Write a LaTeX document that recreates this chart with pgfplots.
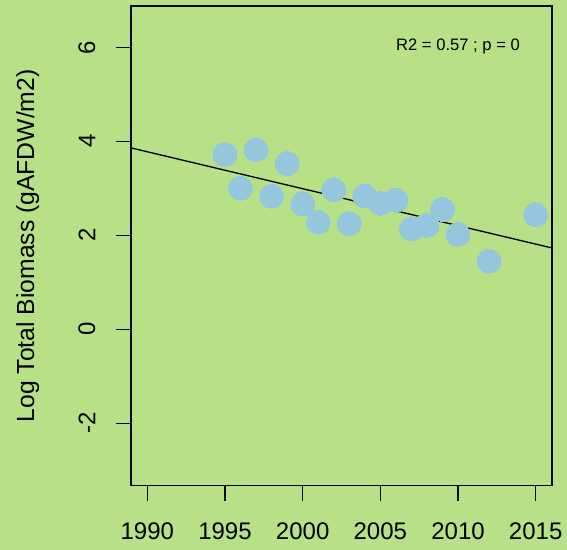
\documentclass[border=0pt]{standalone}
\usepackage{pgfplots}
\pgfplotsset{compat=1.18}
\usepackage{fontspec}
\setmainfont{Liberation Sans}
\definecolor{bgc}{RGB}{184,225,135}
\definecolor{ptc}{RGB}{148,199,222}
\begin{document}
\begin{tikzpicture}
\fill[bgc] (0,0) rectangle (567bp,550bp);
\useasboundingbox (0,0) rectangle (567bp,550bp);
\begin{axis}[
  at={(131bp,64.3bp)}, anchor=south west,
  scale only axis, width=421bp, height=479.7bp,
  xmin=1988.95, xmax=2016.05, ymin=-3.33, ymax=6.88,
  axis line style={line width=1.1bp},
  xtick={1990,1995,2000,2005,2010,2015},
  ytick={-2,0,2,4,6},
  yticklabels={-2,0,2,4,6},
  tick align=outside,
  major tick length=15.5bp,
  tick style={line width=1.1bp, black},
  xtick pos=bottom, ytick pos=left,
  /pgf/number format/assume math mode=true,
  /pgf/number format/1000 sep={},
  tick label style={font=\fontsize{24bp}{28bp}\selectfont, inner sep=0pt},
  xticklabel style={anchor=north, yshift=-21bp},
  yticklabel style={rotate=90, anchor=south, yshift=20bp},
  ylabel={Log Total Biomass (gAFDW/m2)},
  ylabel style={at={(axis description cs:-0.245,0.5)}, anchor=center, inner sep=0pt, font=\fontsize{24.7bp}{28bp}\selectfont},
]
\addplot[only marks, color=ptc, mark=*, mark size=12bp, mark options={draw=ptc, fill=ptc, line width=0pt}] coordinates {
(1995,3.72) (1996,3.00) (1997,3.82) (1998,2.83) (1999,3.53) (2000,2.67)
(2001,2.28) (2002,2.97) (2003,2.25) (2004,2.84) (2005,2.68) (2006,2.75)
(2007,2.14) (2008,2.21) (2009,2.55) (2010,2.02) (2012,1.45) (2015,2.44)
};
\addplot[black, line width=1.3bp] coordinates {(1988.95,3.86) (2016.05,1.73)};
\node[font=\fontsize{16.6bp}{20bp}\selectfont, inner sep=0pt] at (axis cs:2010,6.03) {R2 = 0.57 ; p = 0};
\end{axis}
\end{tikzpicture}
\end{document}
